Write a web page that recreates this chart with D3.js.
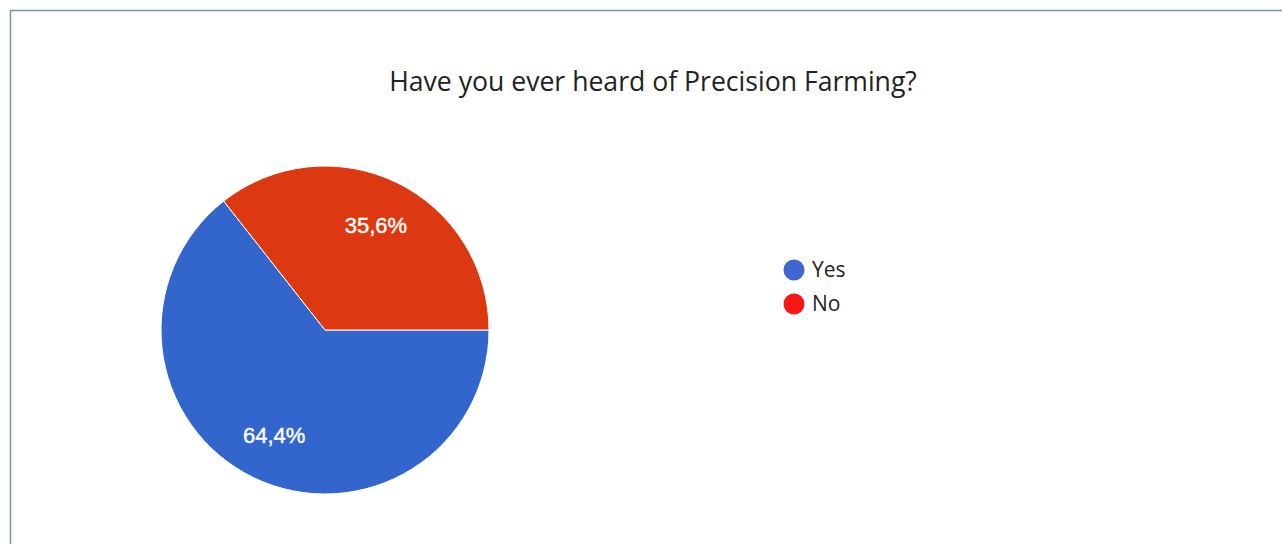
<!DOCTYPE html>
<html>
<head>
<meta charset="utf-8">
<script src="https://cdn.jsdelivr.net/npm/d3@7"></script>
<style>
  html, body { margin: 0; padding: 0; background: #ffffff; }
  svg { display: block; }
</style>
</head>
<body>
<svg id="chart" width="1283" height="544"></svg>
<script>
// Survey answers
const title = "Have you ever heard of Precision Farming?";
const answers = ["Yes", "No"];
const shares = [64.4, 35.6];
const shareLabels = ["64,4%", "35,6%"];
const sliceColors = ["#3366cc", "#dc3912"];
const legendColors = ["#4166cf", "#fa1616"];

const svg = d3.select("#chart");
const W = 1283, H = 544;

// Card frame (top and left edges)
svg.append("path")
  .attr("d", `M10.5,${H} V10.5 H${W - 1}`)
  .attr("fill", "none")
  .attr("stroke", "#7b95a8")
  .attr("stroke-width", 1.5);

// Title
svg.append("text")
  .attr("x", 653)
  .attr("y", 91)
  .attr("text-anchor", "middle")
  .attr("font-family", "'Open Sans', sans-serif")
  .attr("font-size", 26.6)
  .attr("fill", "#222222")
  .text(title);

// Pie
const cx = 325, cy = 330, radius = 164;
const data = answers.map((a, i) => ({ answer: a, value: shares[i], label: shareLabels[i], color: sliceColors[i] }));

const pie = d3.pie()
  .sort(null)
  .value(d => d.value)
  .startAngle(Math.PI / 2)
  .endAngle(Math.PI / 2 + 2 * Math.PI);

const arc = d3.arc().innerRadius(0).outerRadius(radius);
const labelArc = d3.arc().innerRadius(radius * 0.71).outerRadius(radius * 0.71);

const g = svg.append("g").attr("transform", `translate(${cx},${cy})`);
const arcs = pie(data);

g.selectAll("path.slice")
  .data(arcs)
  .join("path")
  .attr("class", "slice")
  .attr("d", arc)
  .attr("fill", d => d.data.color)
  .attr("stroke", "#ffffff")
  .attr("stroke-width", 1);

g.selectAll("text.pct")
  .data(arcs)
  .join("text")
  .attr("class", "pct")
  .attr("transform", d => `translate(${labelArc.centroid(d)})`)
  .attr("text-anchor", "middle")
  .attr("dy", "0.36em")
  .attr("font-family", "'Liberation Sans', Arial, sans-serif")
  .attr("font-size", 22)
  .attr("fill", "#ffffff")
  .attr("stroke", "#ffffff")
  .attr("stroke-width", 0.4)
  .text(d => d.data.label);

// Legend
const legend = svg.append("g").attr("transform", "translate(794,270)");
const rowStep = 34;
const item = legend.selectAll("g.item")
  .data(data)
  .join("g")
  .attr("class", "item")
  .attr("transform", (d, i) => `translate(0,${i * rowStep})`);

item.append("circle")
  .attr("r", 10.5)
  .attr("fill", (d, i) => legendColors[i]);

item.append("text")
  .attr("x", 18)
  .attr("dy", "0.35em")
  .attr("font-family", "'Open Sans', sans-serif")
  .attr("font-size", 21)
  .attr("fill", "#222222")
  .text(d => d.answer);
</script>
</body>
</html>
